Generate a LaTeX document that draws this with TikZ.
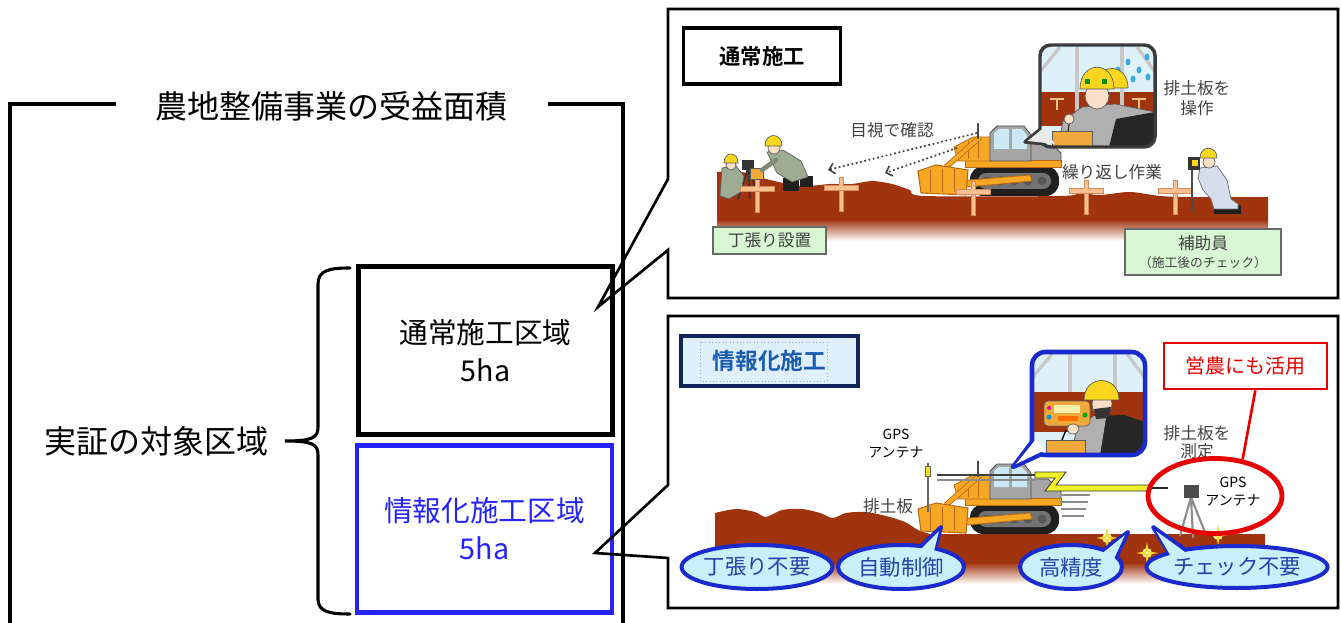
\documentclass[tikz,border=0pt]{standalone}
\usepackage{fontspec}
\setmainfont{Noto Sans CJK JP}[BoldFont={Noto Sans CJK JP Bold}]
\usetikzlibrary{shapes.geometric,arrows.meta}

\definecolor{groundbrown}{RGB}{160,52,14}
\definecolor{stakepeach}{RGB}{247,192,142}
\definecolor{stakeedge}{RGB}{212,140,92}
\definecolor{dozerorange}{RGB}{246,168,36}
\definecolor{dozeredge}{RGB}{185,105,20}
\definecolor{bodygray}{RGB}{165,165,165}
\definecolor{glassblue}{RGB}{205,232,245}
\definecolor{trackblack}{RGB}{32,32,32}
\definecolor{trackgray}{RGB}{115,115,115}
\definecolor{labelgreen}{RGB}{216,246,212}
\definecolor{labeledge}{RGB}{105,105,105}
\definecolor{inktext}{RGB}{66,66,66}
\definecolor{areablue}{RGB}{36,36,250}
\definecolor{calloutblue}{RGB}{26,42,205}
\definecolor{calloutfill}{RGB}{200,240,250}
\definecolor{callouttext}{RGB}{36,66,168}
\definecolor{navyedge}{RGB}{16,36,90}
\definecolor{titlefill}{RGB}{222,239,250}
\definecolor{titleblue}{RGB}{26,92,176}
\definecolor{alertred}{RGB}{232,0,0}
\definecolor{helmetyellow}{RGB}{250,214,30}
\definecolor{skin}{RGB}{248,224,200}
\definecolor{workgreen}{RGB}{158,172,148}
\definecolor{worklight}{RGB}{214,222,236}
\definecolor{skyblue}{RGB}{222,241,248}
\definecolor{framegray}{RGB}{200,200,200}
\definecolor{suitgray}{RGB}{176,176,176}
\definecolor{controlorange}{RGB}{240,170,60}
\definecolor{screenyellow}{RGB}{250,240,170}
\definecolor{dropblue}{RGB}{60,170,225}
\definecolor{boltyellow}{RGB}{240,240,40}
\definecolor{sparkyellow}{RGB}{250,220,40}
\definecolor{bubbleedge}{RGB}{58,58,58}

\newcommand\sz[2]{\fontsize{#1}{#2}\selectfont}

\tikzset{
  bracketline/.style={line width=3.4pt, line join=miter},
  braceline/.style={line width=2.3pt, line cap=round},
  areabox/.style={rectangle, draw=black, line width=3.7pt, inner sep=0pt,
    minimum width=191pt, minimum height=125.5pt, align=center, font=\sz{21.5pt}{28.5pt}},
  bigtext/.style={inner sep=0pt, font=\sz{24pt}{28pt}},
  panelframe/.style={draw=black, line width=2pt, line join=miter},
  paneltitle/.style={rectangle, inner sep=0pt, font=\bfseries\sz{16pt}{18pt}},
  greenlabel/.style={rectangle, fill=labelgreen, draw=labeledge, line width=1.2pt,
    inner sep=0pt, align=center, text=inktext},
  ink/.style={inner sep=0pt, align=center, text=inktext, font=\sz{12.5pt}{15pt}},
  gpstext/.style={inner sep=0pt, align=center, text=black, font=\sz{10.5pt}{13.5pt}},
  callout/.style={ellipse, fill=calloutfill, draw=calloutblue, line width=3pt,
    inner sep=0pt, minimum height=33pt, text=callouttext, font=\sz{16pt}{18pt}},
  callouttail/.style={fill=calloutfill, draw=calloutblue, line width=3pt, line join=round},
  sightline/.style={draw=inktext, line width=1.3pt, dotted,
    -{Straight Barb[length=4pt, width=8pt, line width=1.2pt]}},
  outline/.style={draw=black!65, line width=0.5pt},
  stakecross/.pic={
    \fill[stakepeach, draw=stakeedge, line width=0.4pt] (-2,0) rectangle (2,34);
    \fill[stakepeach, draw=stakeedge, line width=0.4pt] (-17,8) rectangle (17,13);
    \fill[stakepeach] (-1.6,8.5) rectangle (1.6,12.5);
  },
  sparkle/.pic={
    \fill[sparkyellow!40] (0,0) circle (5);
    \fill[sparkyellow] (0,-11) -- (1.6,-1.6) -- (11,0) -- (1.6,1.6) -- (0,11)
      -- (-1.6,1.6) -- (-11,0) -- (-1.6,-1.6) -- cycle;
    \fill[white] (0,0) circle (1.3);
  },
  dozer/.pic={
    % crawler tracks
    \fill[trackblack, rounded corners=10pt] (52,-31) rectangle (141,-1);
    \fill[trackgray, rounded corners=6pt] (60,-24) rectangle (133,-8);
    \foreach \u in {68,82,96,110,124} \fill[trackblack!75] (\u,-16) circle (4.5);
    % rear body
    \fill[bodygray, draw=black!70, line width=0.6pt] (100,-56) -- (130,-56) -- (143,-44) -- (143,-31) -- (100,-31) -- cycle;
    % fender
    \fill[dozerorange, draw=dozeredge, line width=0.6pt] (47,-37) rectangle (143,-30);
    % engine hood
    \fill[dozerorange, draw=dozeredge, line width=0.6pt] (36,-50) -- (55,-60) -- (74,-60) -- (74,-36) -- (40,-36) -- cycle;
    \draw[dozeredge, line width=0.5pt] (50,-56) -- (50,-38) (60,-59) -- (60,-38);
    % cab
    \fill[bodygray, draw=black!70, line width=0.6pt] (72,-64) -- (79,-71) -- (106,-71) -- (113,-62) -- (113,-36) -- (72,-36) -- cycle;
    \fill[glassblue] (76,-64) -- (81,-68) -- (91,-68) -- (91,-48) -- (76,-48) -- cycle;
    \fill[glassblue] (94,-68) -- (104,-68) -- (109,-62) -- (109,-48) -- (94,-48) -- cycle;
    % push frame
    \fill[dozerorange, draw=dozeredge, line width=0.6pt] (28,-15) -- (112,-22) -- (114,-16) -- (28,-8) -- cycle;
    % lift arm
    \draw[dozeredge, line width=4.2pt] (28,-30) -- (62,-60);
    \draw[dozerorange, line width=3pt] (28,-30) -- (62,-60);
    % blade
    \fill[dozerorange, draw=dozeredge, line width=0.8pt] (0,-26) -- (18,-32) -- (50,-27) -- (48,-2) -- (3,-4) -- cycle;
    \foreach \u in {12,24,36} \draw[dozeredge, line width=0.5pt] (\u,-28) -- (\u,-5);
    % small antenna
    \draw[black!70, line width=0.8pt] (60,-74) -- (60,-58);
  }
}

\begin{document}
\begin{tikzpicture}[x=0.75pt,y=-0.75pt]
\useasboundingbox (0,0) rectangle (1341,623);

% ============ benefit-area bracket ============
\node[bigtext] (benefit) at (331,106) {農地整備事業の受益面積};
\draw[bracketline] (116,104) -- (10,104) -- (10,630);
\draw[bracketline] (548,104) -- (623,104) -- (623,630);

% ============ demonstration areas ============
\node[areabox] (normalarea) at (485.5,350.5) {通常施工区域\\5ha};
\node[areabox, draw=areablue, text=areablue, line width=3.3pt] (ictarea) at (484.5,529) {情報化施工区域\\5ha};
\node[bigtext] (target) at (156,441) {実証の対象区域};
\draw[braceline] (350,268) .. controls (330,268) and (318,270) .. (318,284) -- (318,427)
  .. controls (318,438) and (312,441) .. (285,441)
  .. controls (312,441) and (318,444) .. (318,455) -- (318,599)
  .. controls (318,612) and (330,614) .. (350,614);

% ============ callout panels ============
\coordinate (tipA) at (598,307);
\coordinate (tipB) at (595,553);
\draw[panelframe] (668,179) -- (668,9) -- (1338,9) -- (1338,298) -- (668,298) -- (668,250) -- (tipA) -- cycle;
\draw[panelframe] (668,485) -- (668,316) -- (1338,316) -- (1338,608) -- (668,608) -- (668,558) -- (tipB) -- cycle;

% ---------------- conventional construction ----------------
\node[paneltitle, draw=black, line width=2.4pt, minimum width=118pt, minimum height=42pt] (normaltitle) at (762,56) {通常施工};

% ground
\fill[groundbrown] (717,220) -- plot[smooth] coordinates {(717,172) (742,172) (762,178) (800,186) (830,184) (852,184) (872,181) (892,184) (910,190) (925,196) (1060,196) (1080,193) (1100,195) (1130,192) (1160,196) (1190,197) (1268,197)} -- (1268,220) -- cycle;
\shade[top color=groundbrown, bottom color=white] (717,219.5) rectangle (1268,241);

% surveyor with tripod
\draw[black!80, line width=1.1pt] (748,168) -- (738,199) (748,168) -- (750,199) (748,168) -- (759,197);
\fill[black!80] (742,160) rectangle (754,170);
\fill[workgreen, outline] (722,168) -- (736,166) -- (744,176) -- (741,192) -- (729,199) -- (720,196) -- cycle;
\fill[skin, outline] (731,165) circle (5);
\fill[helmetyellow, outline] (724,163) .. controls (724,151) and (738,151) .. (738,163) -- cycle;

% worker setting a batter board
\pic at (757,178) {stakecross};
\fill[controlorange, outline] (750,168) rectangle (763,179);
\fill[trackblack] (783,178) rectangle (799,191);
\fill[trackblack] (800,176) rectangle (813,187);
\fill[workgreen, outline] (767,152) -- (783,150) -- (801,161) -- (808,177) -- (792,182) -- (777,173) -- cycle;
\draw[workgreen!80!black, line width=3.5pt, line cap=round] (776,160) -- (762,170);
\fill[skin, outline] (774,148) circle (6);
\fill[helmetyellow, outline] (765,146) .. controls (765,132) and (782,132) .. (782,146) -- cycle;

% batter boards
\pic at (841,177) {stakecross};

% bulldozer
\pic at (918,197) {dozer};
\pic at (973,181) {stakecross};
\pic at (1086,180) {stakecross};
\pic at (1175,180) {stakecross};

% assistant checking the finish
\draw[black!70, line width=1.2pt] (1192,166) -- (1192,212);
\fill[trackblack] (1214,205) rectangle (1241,214);
\fill[worklight, draw=black!55, line width=0.6pt] (1200,168) -- (1217,166) -- (1227,180) -- (1231,199) -- (1238,204) -- (1238,209) -- (1214,209) -- (1211,199) -- (1203,190) -- (1198,178) -- cycle;
\fill[skin, outline] (1209,162) circle (6);
\fill[helmetyellow, outline] (1200,158) .. controls (1200,145) and (1217,145) .. (1217,158) -- cycle;
\fill[black!80] (1188,157) rectangle (1200,170);
\fill[helmetyellow] (1192,160) rectangle (1198,166);

% visual check
\coordinate (eyeA) at (977,133);
\coordinate (markA) at (828,170);
\coordinate (eyeB) at (957,148);
\coordinate (markB) at (885,173);
\draw[sightline] (eyeA) -- (markA);
\draw[sightline] (eyeB) -- (markB);

% operator bubble
\coordinate (cabA) at (1025,142);
\fill[framegray!40, draw=bubbleedge, line width=2.6pt, line join=round] (1043,127) -- (cabA) -- (1057,145) -- cycle;
\begin{scope}
  \clip[rounded corners=8pt] (1040,45) rectangle (1155,147);
  \fill[skyblue] (1040,45) rectangle (1155,147);
  \fill[groundbrown] (1040,92) rectangle (1155,126);
  \fill[framegray] (1075,45) rectangle (1079,126);
  \fill[framegray] (1120,45) rectangle (1124,126);
  \draw[framegray, line width=2.5pt] (1040,72) -- (1060,47);
  \draw[framegray, line width=2.5pt] (1155,72) -- (1137,47);
  \foreach \p in {(1128,62),(1139,70),(1147,57),(1133,79),(1148,77),(1118,70)}
    \fill[dropblue] \p ellipse[x radius=2.5, y radius=3.5];
  \fill[stakepeach] (1050,98) rectangle (1064,100); \fill[stakepeach] (1056,98) rectangle (1058,110);
  \fill[stakepeach] (1132,98) rectangle (1146,100); \fill[stakepeach] (1138,98) rectangle (1140,110);
  \fill[helmetyellow, outline] (1096,88) .. controls (1096,62) and (1128,62) .. (1128,88) -- cycle;
  \fill[suitgray, outline] (1058,147) -- (1063,121) -- (1082,107) -- (1115,104) -- (1155,112) -- (1155,147) -- cycle;
  \fill[black!85] (1116,119) -- (1155,112) -- (1155,147) -- (1109,147) -- cycle;
  \fill[skin, outline] (1097,96) ellipse[x radius=12, y radius=13];
  \fill[helmetyellow, outline] (1080,89) .. controls (1080,60) and (1114,60) .. (1114,89) -- cycle;
  \fill[green!55!black] (1085,79) rectangle (1090,84);
  \fill[green!55!black] (1102,79) rectangle (1107,84);
  \fill[controlorange, outline] (1052,131) rectangle (1092,147);
  \draw[black!75, line width=1pt] (1068,131) -- (1070,119);
  \fill[skin, outline] (1069,119) circle (5);
\end{scope}
\draw[bubbleedge, line width=2.6pt, rounded corners=8pt] (1040,45) rectangle (1155,147);
\fill[framegray!40] (1043.5,128) -- (1027.5,141) -- (1055,144) -- cycle;

% labels
\node[ink] (visual) at (892,130) {目視で確認};
\node[ink] (repeat) at (1112,172) {繰り返し作業};
\node[ink, font=\sz{12.5pt}{15pt}] (bladeop) at (1197,98) {排土板を\\操作};
\node[greenlabel, minimum width=84.75pt, minimum height=20.25pt, font=\sz{12.5pt}{15pt}] (staking) at (769.5,240.5) {丁張り設置};
\node[greenlabel, minimum width=117pt, minimum height=34.5pt, font=\sz{12.5pt}{15pt}] (assistant) at (1203,252)
  {補助員\\[-1pt]{\fontsize{9.6pt}{12pt}\selectfont （施工後のチェック）}};

% ---------------- ICT construction ----------------
\node[paneltitle, fill=titlefill, draw=navyedge, line width=2.6pt, minimum width=132.75pt, minimum height=37.5pt, text=titleblue, font=\bfseries\sz{17pt}{19pt}] (icttitle) at (769.5,361) {情報化施工};
\draw[titleblue!50, line width=0.6pt, dotted] (700,342) rectangle (827,381);

% ground
\fill[groundbrown] (715,563) -- plot[smooth] coordinates {(715,513) (736,509) (755,512) (766,517) (782,510) (802,509) (820,513) (833,518) (846,513) (866,512) (886,516) (905,522) (918,530) (930,534)} -- (1265,534) -- (1265,563) -- cycle;
\shade[top color=groundbrown, bottom color=white] (715,562.5) rectangle (1265,584);

% sparkles
\pic at (1107,538) {sparkle};
\pic at (1147,553) {sparkle};
\pic at (1218,535) {sparkle};

% bulldozer with GPS mast
\pic at (918,535) {dozer};
\draw[black!60, line width=1.8pt] (928,463) -- (928,512);
\fill[helmetyellow, draw=black!60, line width=0.4pt] (925.5,466) rectangle (930.5,476);
\draw[black!75, line width=0.8pt] (937,475) -- (1036,475);
\draw[black!45, line width=0.8pt] (937,480) -- (1036,480);

% radio link to the ground station
\fill[boltyellow, draw=black!80, line width=0.6pt, line join=miter] (1035,472) -- (1066,472) -- (1056,485) -- (1150,485) -- (1150,491) -- (1045,491) -- (1055,478) -- (1035,478) -- cycle;
\draw[black!85, line width=1pt] (1150,488) -- (1168,488);
\foreach \yy/\xa/\xb in {495/1060/1090, 502/1060/1088, 509/1061/1086, 516/1062/1084}
  \draw[black!45, line width=1.1pt] (\xa,\yy) -- (\xb,\yy);

% ground station tripod
\draw[black!45, line width=1.6pt] (1191,497) -- (1180,536) (1191,497) -- (1193,538) (1191,497) -- (1206,535);
\fill[black!70] (1184,485) rectangle (1199,498);

% operator bubble
\coordinate (cabB) at (1013,467);
\fill[white, draw=calloutblue, line width=3.4pt, line join=round] (1035,438) -- (cabB) -- (1046,452) -- cycle;
\begin{scope}
  \clip[rounded corners=10pt] (1032,352) rectangle (1145,455);
  \fill[skyblue] (1032,352) rectangle (1145,455);
  \fill[groundbrown] (1032,392) rectangle (1145,432);
  \fill[framegray] (1068,352) rectangle (1072,392);
  \fill[framegray] (1113,352) rectangle (1117,392);
  \draw[framegray, line width=2.5pt] (1032,378) -- (1052,354);
  \draw[framegray, line width=2.5pt] (1145,378) -- (1127,354);
  \fill[black!85] (1072,455) -- (1076,428) -- (1094,416) -- (1124,415) -- (1145,422) -- (1145,455) -- cycle;
  \fill[suitgray] (1076,428) -- (1094,416) -- (1106,418) -- (1100,455) -- (1074,455) -- cycle;
  \fill[skin, outline] (1102,404) ellipse[x radius=10, y radius=12];
  \fill[black!80] (1094,409) -- (1111,407) -- (1109,418) -- (1096,419) -- cycle;
  \fill[helmetyellow, outline] (1084,400) .. controls (1084,374) and (1119,374) .. (1119,400) -- cycle;
  \fill[controlorange, outline, rounded corners=3pt] (1044,401) rectangle (1090,426);
  \fill[screenyellow] (1054,405) rectangle (1080,413);
  \fill[orange!85!red] (1058,416) rectangle (1078,421);
  \fill[cyan!80!blue] (1049,417) circle (2.5);
  \fill[green!65!black] (1085,415) circle (2.5);
  \fill[magenta] (1049,408) circle (2);
  \fill[skin, outline] (1073,429) ellipse[x radius=6, y radius=5];
  \fill[controlorange, outline] (1046,440) rectangle (1085,455);
  \draw[black, line width=1pt] (1062,440) -- (1066,430);
\end{scope}
\draw[calloutblue, line width=3.4pt, rounded corners=10pt] (1032,352) rectangle (1145,455);
\fill[white] (1036,439) -- (1016,464) -- (1045,450) -- cycle;

% labels
\node[gpstext] (gpsmast) at (896,444) {GPS\\アンテナ};
\node[ink] (bladeplate) at (888,506) {排土板};
\node[ink, font=\sz{12.5pt}{13.5pt}] (blademeasure) at (1197,442) {排土板を\\測定};
\node[gpstext] (gpsbase) at (1233,492) {GPS\\アンテナ};

% feature callouts
\fill[callouttail] (916,551) -- (941,527) -- (934,553) -- cycle;
\fill[callouttail] (1100,553) -- (1128,532) -- (1115,560) -- cycle;
\fill[callouttail] (1172,558) -- (1153,527) -- (1190,553) -- cycle;
\node[callout, minimum width=94.5pt] (nostake) at (757,567) {丁張り不要};
\node[callout, minimum width=94.5pt] (autoctrl) at (901,567) {自動制御};
\node[callout, minimum width=76.5pt] (precise) at (1071,567) {高精度};
\node[callout, minimum width=120pt, minimum height=31.5pt] (nocheck) at (1237,567) {チェック不要};
\fill[calloutfill] (918,552) -- (939,531) -- (933,555) -- cycle;
\fill[calloutfill] (1100,555) -- (1125,535) -- (1113,561) -- cycle;
\fill[calloutfill] (1173,560) -- (1156,531) -- (1189,555) -- cycle;

% farming use
\node[ellipse, draw=alertred, line width=3.6pt, minimum width=100.5pt, minimum height=56.25pt] (gpsring) at (1215,496) {};
\node[rectangle, draw=alertred, line width=2pt, minimum width=122.25pt, minimum height=34.5pt, inner sep=0pt, text=alertred, font=\sz{15pt}{17pt}] (farming) at (1245.5,366) {営農にも活用};
\draw[alertred, line width=2pt] (farming.-68) -- (gpsring.53);
\end{tikzpicture}
\end{document}
